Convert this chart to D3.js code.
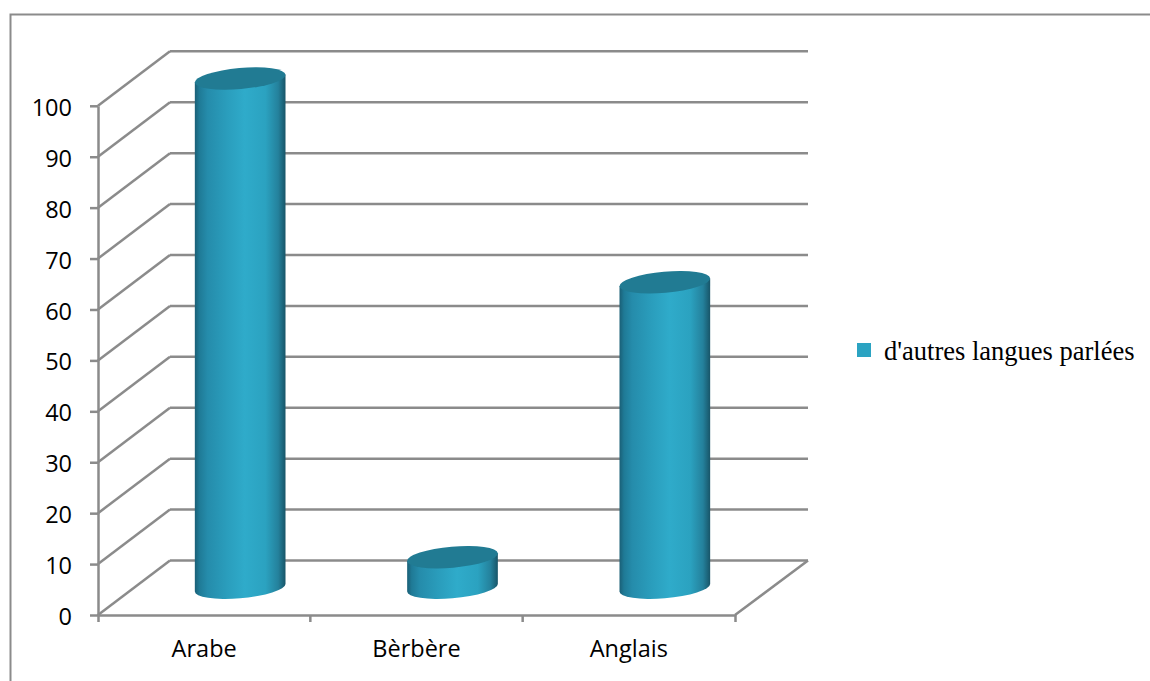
<!DOCTYPE html>
<html>
<head>
<meta charset="utf-8">
<script src="https://cdn.jsdelivr.net/npm/d3@7"></script>
<style>
  html, body { margin: 0; padding: 0; background: #fff; overflow: hidden; }
  svg { display: block; }
</style>
</head>
<body>
<div id="chart"></div>
<script>
const categories = ["Arabe", "Bèrbère", "Anglais"];
const values = [100, 6, 60];
const yTicks = [0, 10, 20, 30, 40, 50, 60, 70, 80, 90, 100];
const seriesName = "d'autres langues parlées";

const width = 1150, height = 681;
const plot = { left: 98, right: 735, bottom: 615, top: 105.8 };
const depth = { x: 72, y: -54.5 };
const gridColor = "#8b8b8b";
const cylinderTop = "#217b93";
const legendColor = "#2ba3c2";

const svg = d3.select("#chart").append("svg")
  .attr("width", width).attr("height", height);

const x = d3.scaleBand().domain(categories).range([plot.left, plot.right]);
const y = d3.scaleLinear().domain([0, 100]).range([plot.bottom, plot.top]);

// Horizontal shading that gives the columns their rounded look
const grad = svg.append("defs").append("linearGradient")
  .attr("id", "cylinderShade")
  .attr("x1", "0%").attr("x2", "100%").attr("y1", "0%").attr("y2", "0%");
[[0, "#1a5f76"], [0.05, "#1f7a96"], [0.14, "#258cab"], [0.35, "#2a9dbc"], [0.55, "#2fabca"],
 [0.78, "#2ba2c0"], [0.92, "#24819c"], [1, "#185568"]].forEach(([o, c]) =>
  grad.append("stop").attr("offset", o).attr("stop-color", c));

// Chart frame, open towards the right and bottom page edges
svg.append("path")
  .attr("d", `M10.5,${height + 5}V14.5H${width + 5}`)
  .attr("fill", "none").attr("stroke", gridColor).attr("stroke-width", 2);

// Back wall gridlines and the receding lines on the side wall
const grid = svg.append("g").attr("stroke", gridColor).attr("stroke-width", 2.5);
grid.selectAll(".back").data(yTicks).join("line")
  .attr("class", "back")
  .attr("x1", plot.left + depth.x).attr("x2", plot.right + depth.x + 1)
  .attr("y1", d => y(d) + depth.y).attr("y2", d => y(d) + depth.y);
grid.selectAll(".side").data(yTicks).join("line")
  .attr("class", "side")
  .attr("x1", plot.left).attr("x2", plot.left + depth.x)
  .attr("y1", d => y(d)).attr("y2", d => y(d) + depth.y);
// Right edge of the floor
grid.append("line")
  .attr("x1", plot.right).attr("x2", plot.right + depth.x + 1)
  .attr("y1", y(0)).attr("y2", y(0) + depth.y);

// Value and category axes
const yAxis = svg.append("g")
  .attr("transform", `translate(${plot.left},0)`)
  .call(d3.axisLeft(y).tickValues(yTicks).tickSize(8).tickSizeOuter(0).tickPadding(18));
const xAxis = svg.append("g")
  .attr("transform", `translate(0,${plot.bottom})`)
  .call(d3.axisBottom(x).tickValues([]).tickSizeOuter(7));

[yAxis, xAxis].forEach(a => {
  a.selectAll("path, line").attr("stroke", gridColor).attr("stroke-width", 2.5);
  a.select(".domain").attr("fill", "none");
});
yAxis.selectAll("text")
  .attr("fill", "#000").attr("font-family", "'Open Sans'").attr("font-size", 23.5)
  .attr("y", 2);

// Category ticks and labels
xAxis.selectAll(".catTick").data(categories.slice(0, 2)).join("line")
  .attr("class", "catTick")
  .attr("x1", d => x(d) + x.step()).attr("x2", d => x(d) + x.step())
  .attr("y1", 0).attr("y2", 7)
  .attr("stroke", gridColor).attr("stroke-width", 2.5);
svg.append("g").selectAll("text").data(categories).join("text")
  .attr("x", d => x(d) + x.bandwidth() / 2)
  .attr("y", 657)
  .attr("text-anchor", "middle")
  .attr("font-family", "'Open Sans'").attr("font-size", 23.5).attr("fill", "#000")
  .text(d => d);

// Cylinders stand halfway into the floor depth, with tilted elliptical caps
const rx = 45.5, ry = 10.5, tilt = -5;
const rad = tilt * Math.PI / 180;
const halfW = Math.sqrt(rx * rx * Math.cos(rad) ** 2 + ry * ry * Math.sin(rad) ** 2);
const edgeDy = (rx * rx - ry * ry) * Math.sin(rad) * Math.cos(rad) / halfW;
const cx = d => x(d) + x.bandwidth() / 2 + depth.x / 2;
const cy = v => y(v) + depth.y / 2;

const bars = svg.append("g").selectAll("g")
  .data(categories.map((c, i) => ({ c, v: values[i] })))
  .join("g");
bars.append("path")
  .attr("fill", "url(#cylinderShade)")
  .attr("d", d => {
    const xc = cx(d.c), t = cy(d.v), b = cy(0);
    return `M${xc - halfW},${t - edgeDy}` +
      `L${xc - halfW},${b - edgeDy}` +
      `A${rx},${ry} ${tilt} 0 0 ${xc + halfW},${b + edgeDy}` +
      `L${xc + halfW},${t + edgeDy}Z`;
  });
bars.append("ellipse")
  .attr("rx", rx).attr("ry", ry)
  .attr("fill", cylinderTop)
  .attr("transform", d => `translate(${cx(d.c)},${cy(d.v)}) rotate(${tilt})`);

// Legend
svg.append("rect")
  .attr("x", 857).attr("y", 343).attr("width", 14).attr("height", 14)
  .attr("fill", legendColor);
svg.append("text")
  .attr("x", 884).attr("y", 360)
  .attr("font-family", "'Liberation Serif'").attr("font-size", 26.5).attr("fill", "#000")
  .text(seriesName);
</script>
</body>
</html>
